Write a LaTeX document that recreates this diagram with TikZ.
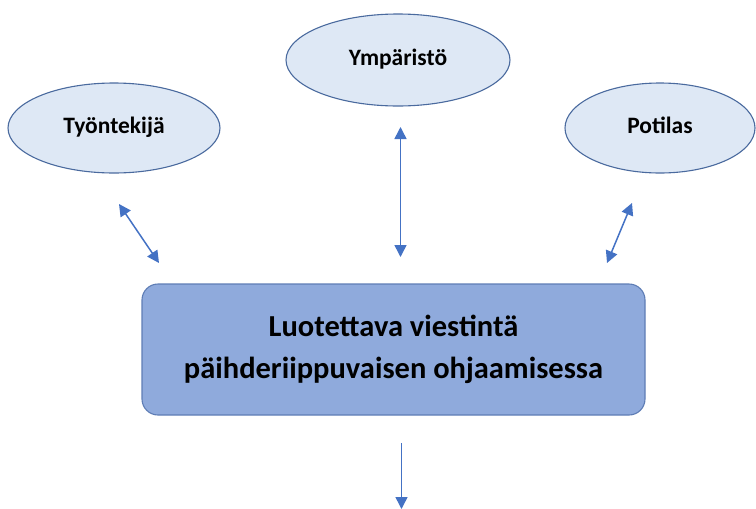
\documentclass[tikz,border=0pt]{standalone}
\usepackage{fontspec}
\setmainfont{Carlito}
\usetikzlibrary{arrows.meta,shapes.geometric}
\definecolor{ellfill}{HTML}{DEE8F5}
\definecolor{elldraw}{HTML}{4A6A9E}
\definecolor{boxfill}{HTML}{8FAADC}
\definecolor{boxdraw}{HTML}{5E7DB5}
\definecolor{arrowc}{HTML}{4472C4}
\tikzset{
  actor/.style={ellipse, draw=elldraw, fill=ellfill, line width=1.1pt,
    inner sep=0pt, text height=16pt, text depth=6pt,
    font=\fontsize{23.5}{28}\selectfont\bfseries},
  mainbox/.style={rectangle, rounded corners=16pt, draw=boxdraw, fill=boxfill,
    line width=1.1pt, align=center, inner sep=0pt,
    font=\fontsize{30.5}{42}\selectfont\bfseries},
  link/.style={draw=arrowc, line width=1.5pt,
    {Triangle[length=12pt,width=12pt]}-{Triangle[length=12pt,width=12pt]}},
  outlink/.style={draw=arrowc, line width=1.5pt, -{Triangle[length=12pt,width=12pt]}}
}
\begin{document}
\begin{tikzpicture}[x=1pt,y=-1pt]
\useasboundingbox (0,0) rectangle (756,509);
\node[actor, minimum width=212pt, minimum height=90pt] (tyo) at (114,128) {Työntekijä};
\node[actor, minimum width=224pt, minimum height=92pt] (ymp) at (398,60) {Ympäristö};
\node[actor, minimum width=190pt, minimum height=90pt] (pot) at (660,128) {Potilas};
\node[mainbox, minimum width=503pt, minimum height=131pt] (main) at (393.5,349.5)
  {Luotettava viestintä\\päihderiippuvaisen ohjaamisessa};
\coordinate (a1) at (119,204);
\coordinate (a2) at (159,263);
\coordinate (b1) at (400.5,127);
\coordinate (b2) at (400.5,257);
\coordinate (c1) at (632,203);
\coordinate (c2) at (607,263);
\coordinate (d1) at (401.5,443);
\coordinate (d2) at (401.5,509);
\draw[link] (a1) -- (a2);
\draw[link] (b1) -- (b2);
\draw[link] (c1) -- (c2);
\draw[outlink] (d1) -- (d2);
\end{tikzpicture}
\end{document}
